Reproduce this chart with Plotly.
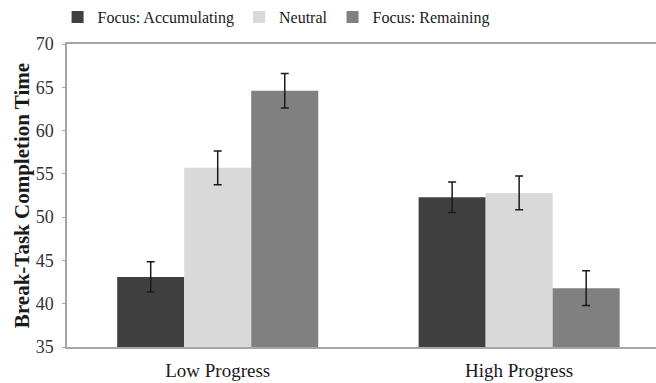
import plotly.graph_objects as go

categories = ["Low Progress", "High Progress"]
series_names = ["Focus: Accumulating", "Neutral", "Focus: Remaining"]
accumulating = [43.1, 52.3]
neutral = [55.7, 52.8]
remaining = [64.6, 41.8]
err_accumulating = [1.75, 1.75]
err_neutral = [1.95, 1.95]
err_remaining = [2.0, 2.0]
y_ticks = [35, 40, 45, 50, 55, 60, 65, 70]

colors = ["#404040", "#d9d9d9", "#808080"]
values = [accumulating, neutral, remaining]
errors = [err_accumulating, err_neutral, err_remaining]

font_family = "Liberation Serif"

fig = go.Figure()
for name, vals, errs, col in zip(series_names, values, errors, colors):
    fig.add_trace(go.Bar(
        x=categories, y=vals, name=name,
        marker=dict(color=col, line=dict(width=0)),
        error_y=dict(type="data", array=errs, visible=True,
                     color="#1a1a1a", thickness=1.5, width=4),
    ))

fig.update_layout(
    width=656, height=383,
    margin=dict(l=67, r=0, t=41, b=36),
    barmode="group", bargap=0.333, bargroupgap=0,
    plot_bgcolor="white", paper_bgcolor="white",
    font=dict(family=font_family, size=16, color="#1a1a1a"),
    showlegend=True,
    legend=dict(orientation="h", xref="paper", yref="paper",
                x=-0.016, xanchor="left", y=1.147, yanchor="top",
                font=dict(family=font_family, size=16, color="#1a1a1a"),
                itemwidth=30, tracegroupgap=0),
    xaxis=dict(range=[-0.5, 1.454], showline=True, linecolor="#a6a6a6",
               linewidth=1.5, mirror=True, ticks="", showgrid=False,
               automargin=False,
               tickfont=dict(family=font_family, size=19, color="#1a1a1a"),
               ticklabelstandoff=5),
    yaxis=dict(range=[35, 70], tickvals=y_ticks, showline=True,
               linecolor="#a6a6a6", linewidth=1.5, ticks="outside",
               ticklen=3, tickcolor="#a6a6a6", showgrid=False, zeroline=False,
               automargin=False,
               tickfont=dict(family=font_family, size=18, color="#333333"),
               ticklabelstandoff=5,
               title=dict(text="<b>Break-Task Completion Time</b>",
                          font=dict(family=font_family, size=21, color="#1a1a1a"),
                          standoff=0)),
)

fig.write_html("out.html", config={"displayModeBar": False},
               post_script="document.body.style.margin='0px';")
